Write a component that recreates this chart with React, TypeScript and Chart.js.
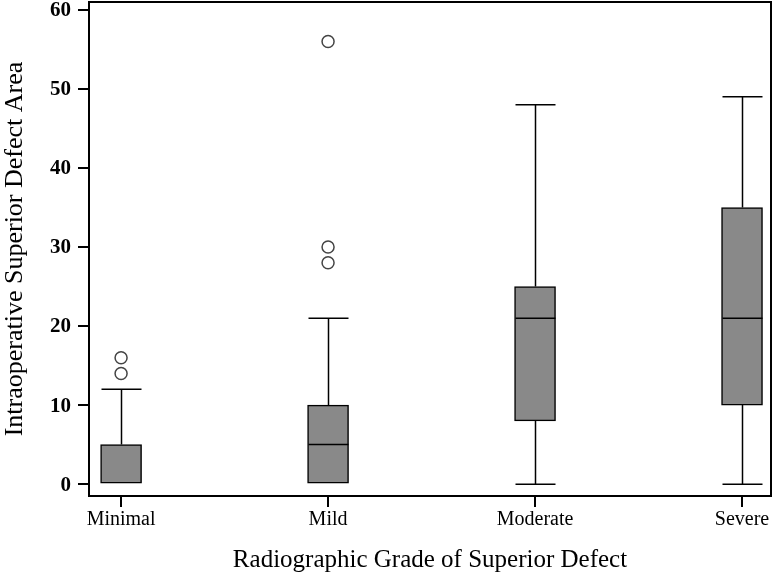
import React, { useEffect, useRef } from "react";
import { Chart, registerables } from "chart.js";

Chart.register(...registerables);

const categories = ["Minimal", "Mild", "Moderate", "Severe"];
const whiskerLow = [0, 0, 0, 0];
const q1 = [0, 0, 8, 10];
const median = [0, 5, 21, 21];
const q3 = [5, 10, 25, 35];
const whiskerHigh = [12, 21, 48, 49];
const outliers = [[14, 16], [28, 30, 56], [], []];
const yTicks = [0, 10, 20, 30, 40, 50, 60];

const FONT = "'Liberation Serif', 'Times New Roman', serif";

export default function App() {
  const ref = useRef<HTMLCanvasElement | null>(null);

  useEffect(() => {
    document.body.style.margin = "0";
    const canvas = ref.current;
    if (!canvas) return;

    const boxData = categories.map((_, i) => ({ x: i, y: [q1[i], q3[i]] }));
    const outlierData: { x: number; y: number }[] = [];
    outliers.forEach((arr, i) => arr.forEach((v) => outlierData.push({ x: i, y: v })));

    const boxPlugin = {
      id: "boxExtras",
      afterDatasetsDraw(chart: any) {
        const { ctx, scales } = chart;
        const xs = scales.x;
        const ys = scales.y;
        const half = 20;
        ctx.save();
        ctx.strokeStyle = "#000";
        ctx.lineWidth = 1.5;
        categories.forEach((_, i) => {
          const cx = Math.round(xs.getPixelForValue(i)) + 0.5;
          const yLo = ys.getPixelForValue(whiskerLow[i]);
          const yQ1 = ys.getPixelForValue(q1[i]);
          const yQ3 = ys.getPixelForValue(q3[i]);
          const yHi = ys.getPixelForValue(whiskerHigh[i]);
          const yMed = ys.getPixelForValue(median[i]);
          ctx.beginPath();
          ctx.moveTo(cx, yQ3);
          ctx.lineTo(cx, yHi);
          ctx.moveTo(cx - half, yHi);
          ctx.lineTo(cx + half, yHi);
          if (yLo !== yQ1) {
            ctx.moveTo(cx, yQ1);
            ctx.lineTo(cx, yLo);
            ctx.moveTo(cx - half, yLo);
            ctx.lineTo(cx + half, yLo);
          }
          if (yMed !== yQ1) {
            ctx.moveTo(cx - half, yMed);
            ctx.lineTo(cx + half, yMed);
          }
          ctx.stroke();
        });
        ctx.restore();
      },
      afterDraw(chart: any) {
        const { ctx, chartArea, scales } = chart;
        ctx.save();
        ctx.strokeStyle = "#000";
        ctx.lineWidth = 2;
        ctx.strokeRect(chartArea.left, chartArea.top, chartArea.right - chartArea.left, chartArea.bottom - chartArea.top);
        ctx.fillStyle = "#000";
        ctx.font = `bold 21px ${FONT}`;
        ctx.textAlign = "right";
        ctx.textBaseline = "middle";
        yTicks.forEach((v) => {
          ctx.fillText(String(v), chartArea.left - 18, scales.y.getPixelForValue(v) + 1);
        });
        ctx.font = `20px ${FONT}`;
        ctx.textAlign = "center";
        ctx.textBaseline = "top";
        categories.forEach((c, i) => {
          ctx.fillText(c, scales.x.getPixelForValue(i), chartArea.bottom + 14);
        });
        ctx.restore();
      },
    };

    const chart = new Chart(canvas, {
      type: "bar",
      data: {
        datasets: [
          {
            type: "bar",
            data: boxData as any,
            backgroundColor: "#898989",
            borderColor: "#000",
            borderWidth: 1.5,
            borderSkipped: false,
            barThickness: 41,
            order: 2,
          } as any,
          {
            type: "line",
            data: outlierData as any,
            showLine: false,
            pointStyle: "circle",
            pointRadius: 6,
            pointBorderWidth: 1.5,
            pointBorderColor: "#444",
            pointBackgroundColor: "#fff",
            order: 1,
          } as any,
        ],
      },
      options: {
        animation: false,
        responsive: false,
        maintainAspectRatio: false,
        plugins: { legend: { display: false }, tooltip: { enabled: false } },
        layout: { autoPadding: false, padding: { left: 0, top: 2, right: 3, bottom: 0 } },
        scales: {
          x: {
            type: "linear",
            offset: false,
            min: -0.155,
            max: 3.14,
            afterBuildTicks: (s: any) => {
              s.ticks = categories.map((_, i) => ({ value: i }));
            },
            afterFit: (s: any) => {
              s.height = 79;
            },
            ticks: { display: false },
            grid: { offset: false, drawOnChartArea: false, drawTicks: true, tickLength: 11, color: "#000", lineWidth: 2 },
            border: { display: true, color: "#000", width: 2 },
            title: {
              display: true,
              text: "Radiographic Grade of Superior Defect",
              color: "#000",
              font: { family: FONT, size: 25 },
              padding: { top: 4, bottom: 0 },
            },
          },
          y: {
            type: "linear",
            min: -1.5,
            max: 61,
            afterBuildTicks: (s: any) => {
              s.ticks = yTicks.map((v) => ({ value: v }));
            },
            afterFit: (s: any) => {
              s.width = 89;
            },
            ticks: { display: false },
            grid: { drawOnChartArea: false, drawTicks: true, tickLength: 11, color: "#000", lineWidth: 2 },
            border: { display: true, color: "#000", width: 2 },
            title: {
              display: true,
              text: "Intraoperative Superior Defect Area",
              color: "#000",
              font: { family: FONT, size: 26 },
              padding: { top: 0, bottom: 4 },
            },
          },
        },
      },
      plugins: [boxPlugin],
    } as any);

    return () => chart.destroy();
  }, []);

  return (
    <div style={{ position: "absolute", left: 0, top: 0, width: 774, height: 575 }}>
      <canvas ref={ref} width={774} height={575} style={{ width: 774, height: 575 }} />
    </div>
  );
}
